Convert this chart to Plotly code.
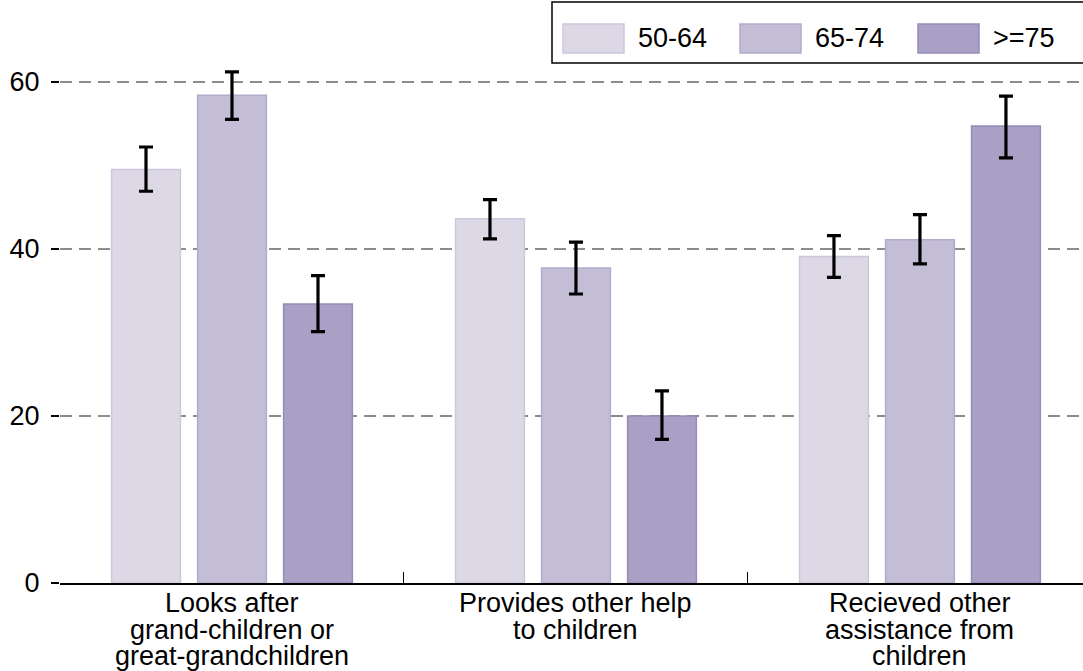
import plotly.graph_objects as go

categories = ["Looks after<br>grand-children or<br>great-grandchildren",
              "Provides other help<br>to children",
              "Recieved other<br>assistance from<br>children"]
series_names = ["50-64", "65-74", ">=75"]
values = {
    "50-64": [49.5, 43.6, 39.1],
    "65-74": [58.4, 37.7, 41.1],
    ">=75": [33.4, 20.0, 54.7],
}
upper = {
    "50-64": [52.2, 45.9, 41.6],
    "65-74": [61.2, 40.8, 44.1],
    ">=75": [36.8, 23.0, 58.3],
}
lower = {
    "50-64": [46.9, 41.2, 36.6],
    "65-74": [55.5, 34.6, 38.2],
    ">=75": [30.1, 17.2, 50.9],
}
y_ticks = [0, 20, 40, 60]

fills = ["#dcd8e6", "#c3bdd6", "#aa9fc4"]
edges = ["#cdc7dd", "#b3abcd", "#978cb8"]

FONT = "Liberation Sans, Arial, sans-serif"
FS = 27

W, H = 1083, 671
ML, MR, MT, MB = 60, 0, 0, 88
PW = W - ML - MR
PH = H - MT - MB

fig = go.Figure()
for name, fc, ec in zip(series_names, fills, edges):
    v = values[name]
    fig.add_trace(go.Bar(
        x=categories, y=v, name=name,
        marker=dict(color=fc, line=dict(color=ec, width=1.5)),
        error_y=dict(type="data", symmetric=False,
                     array=[u - a for u, a in zip(upper[name], v)],
                     arrayminus=[a - l for a, l in zip(v, lower[name])],
                     color="black", thickness=3.2, width=7),
        showlegend=False,
    ))

# category labels, one annotation per line for tight line spacing
annotations = []
for i, cat in enumerate(categories):
    for k, line in enumerate(cat.split("<br>")):
        annotations.append(dict(
            x=i, xref="x", y=0, yref="paper", yanchor="top",
            yshift=-4 - k * 26.5, text=line, showarrow=False, borderpad=0,
            font=dict(family=FONT, size=FS, color="black")))

# custom legend with wide swatches
def px2x(px):
    return (px - ML) / PW

def px2y(py):
    return (H - MB - py) / PH

shapes = [dict(type="rect", xref="paper", yref="paper",
               x0=px2x(552), x1=px2x(1095), y0=px2y(63), y1=px2y(2),
               line=dict(color="black", width=1.5), fillcolor="white", layer="above")]
sw_x = [563, 740, 918]
for name, fc, ec, sx in zip(series_names, fills, edges, sw_x):
    shapes.append(dict(type="rect", xref="paper", yref="paper",
                       x0=px2x(sx), x1=px2x(sx + 61), y0=px2y(53), y1=px2y(24),
                       line=dict(color=ec, width=1.5), fillcolor=fc, layer="above"))
    annotations.append(dict(x=px2x(sx + 73), xref="paper", y=px2y(38.5), yref="paper",
                            xanchor="left", yanchor="middle", text=name, showarrow=False,
                            font=dict(family=FONT, size=FS, color="black")))

fig.update_layout(
    width=W, height=H,
    margin=dict(l=ML, r=MR, t=MT, b=MB, pad=0),
    paper_bgcolor="white", plot_bgcolor="white",
    barmode="group", bargap=0.25, bargroupgap=0.2,
    font=dict(family=FONT, size=FS, color="black"),
    shapes=shapes, annotations=annotations,
    xaxis=dict(type="category", range=[-0.5, 2.474], showticklabels=False,
               ticks="inside", tickson="boundaries", ticklen=11, tickwidth=1.2,
               tickcolor="black", showline=True, linecolor="black", linewidth=1.5,
               showgrid=False, zeroline=False, fixedrange=True),
    yaxis=dict(range=[0, 69.8], tickmode="array", tickvals=y_ticks,
               ticktext=[str(t) for t in y_ticks],
               ticks="outside", ticklen=8, tickwidth=1.5, tickcolor="black",
               ticklabelstandoff=6,
               showline=False, showgrid=True, gridcolor="#8c8c8c", gridwidth=1.5,
               griddash="12px,7px", zeroline=False,
               tickfont=dict(family=FONT, size=FS, color="black")),
)

fig.write_html("out.html", config={"displayModeBar": False})

# remove the default page margin so the figure sits at the window's top-left
with open("out.html", "r", encoding="utf-8") as f:
    html = f.read()
html = html.replace("<head>", "<head><style>html,body{margin:0;padding:0;overflow:hidden;}</style>", 1)
with open("out.html", "w", encoding="utf-8") as f:
    f.write(html)
